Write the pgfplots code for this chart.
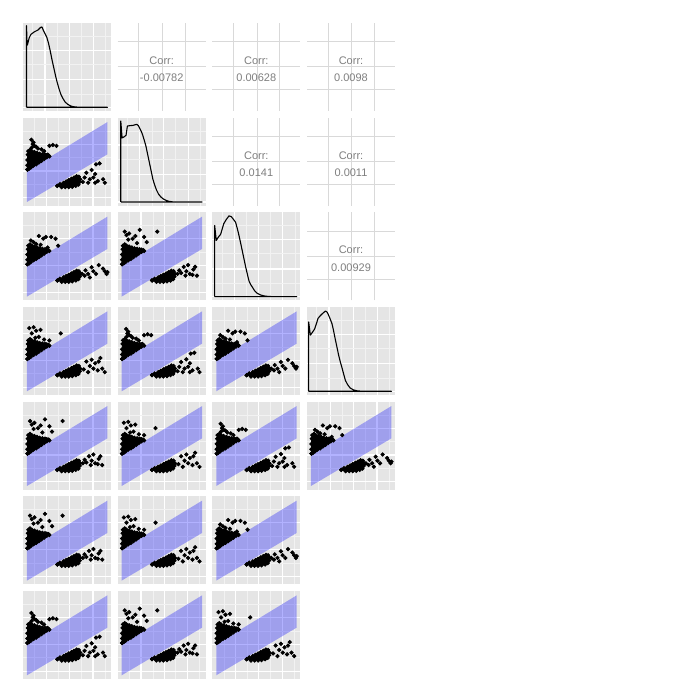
\documentclass[border=0pt]{standalone}
\usepackage{pgfplots}
\pgfplotsset{compat=1.18}
\usepackage{pgfplotstable}
\usepackage{fontspec}
\setmainfont{Liberation Sans}
\definecolor{panelbg}{RGB}{229,229,229}
\definecolor{minorg}{RGB}{242,242,242}
\definecolor{corrgrid}{RGB}{217,217,217}
\definecolor{corrtext}{RGB}{127,127,127}

\pgfplotsset{
 panel/.style={scale only axis, width=44pt, height=44pt, xmin=0,xmax=1,ymin=0,ymax=1,
   anchor=south west, axis line style={draw=none}, tick style={draw=none},
   xticklabels={}, yticklabels={}},
 graypanel/.style={panel, grid=both, axis background/.style={fill=panelbg},
   major grid style={white, line width=0.55pt}, minor grid style={minorg, line width=0.3pt}},
 scatpanel/.style={graypanel, xtick={0.265,0.53,0.795}, minor xtick={0.133,0.40,0.66,0.93},
   ytick={0.09,0.394,0.70}, minor ytick={0.242,0.545,0.85}},
 denspanel/.style={graypanel, xtick={0.25,0.525,0.80}, minor xtick={0.11,0.39,0.66,0.94},
   ytick={0.042,0.356,0.69}, minor ytick={0.19,0.53,0.85}},
 corrpanel/.style={panel, grid=major, xtick={0.24,0.51,0.765}, ytick={0.24,0.50,0.784},
   major grid style={corrgrid, line width=0.5pt}},
}

\pgfplotstableread{
x y
0.05 0.41
0.05 0.46
0.05 0.52
0.055 0.58
0.06 0.62
0.08 0.635
0.10 0.62
0.13 0.61
0.16 0.60
0.19 0.59
0.22 0.585
0.25 0.58
0.27 0.575
0.29 0.57
0.30 0.56
0.27 0.55
0.24 0.53
0.21 0.51
0.18 0.49
0.15 0.47
0.12 0.455
0.09 0.435
0.07 0.42
0.05 0.41
}\blobU

\pgfplotstableread{
x y
0.39 0.225
0.42 0.245
0.46 0.26
0.49 0.275
0.52 0.29
0.55 0.305
0.58 0.32
0.61 0.335
0.635 0.33
0.65 0.30
0.645 0.27
0.63 0.24
0.60 0.225
0.56 0.215
0.52 0.21
0.48 0.21
0.44 0.21
0.39 0.225
}\blobL

\pgfplotstableread{
x y
0.095 0.75
0.11 0.70
0.12 0.72
0.13 0.68
0.15 0.67
0.17 0.65
0.21 0.64
0.28 0.58
0.30 0.68
0.34 0.69
0.38 0.68
0.10 0.66
0.24 0.62
0.68 0.27
0.70 0.32
0.72 0.375
0.74 0.26
0.76 0.30
0.78 0.405
0.80 0.32
0.82 0.26
0.82 0.36
0.83 0.47
0.85 0.28
0.87 0.48
0.91 0.30
0.93 0.26
}\outA

\pgfplotstableread{
x y
0.09 0.68
0.12 0.66
0.18 0.73
0.23 0.70
0.26 0.72
0.32 0.72
0.37 0.70
0.40 0.62
0.20 0.63
0.15 0.64
0.28 0.60
0.70 0.28
0.71 0.34
0.74 0.30
0.76 0.26
0.78 0.375
0.80 0.33
0.83 0.30
0.86 0.40
0.91 0.36
0.93 0.33
0.95 0.30
0.96 0.32
0.67 0.30
}\outB

\pgfplotstableread{
x y
0.08 0.78
0.10 0.74
0.13 0.76
0.17 0.70
0.20 0.73
0.25 0.80
0.30 0.72
0.33 0.66
0.45 0.78
0.22 0.65
0.12 0.69
0.68 0.30
0.70 0.34
0.72 0.31
0.75 0.38
0.77 0.28
0.78 0.33
0.80 0.40
0.82 0.30
0.85 0.29
0.88 0.38
0.90 0.28
0.86 0.35
}\outC

\pgfplotstableread{
x y
0.07 0.76
0.10 0.70
0.12 0.77
0.15 0.73
0.18 0.66
0.20 0.74
0.24 0.63
0.14 0.65
0.43 0.70
0.30 0.62
0.69 0.29
0.72 0.38
0.74 0.26
0.76 0.33
0.78 0.40
0.80 0.30
0.82 0.36
0.85 0.28
0.86 0.38
0.88 0.42
0.90 0.30
0.93 0.26
}\outD

\pgfplotstableread{
x y
0.04 0.042
0.04 0.97
0.045 0.80
0.05 0.75
0.07 0.83
0.09 0.87
0.13 0.90
0.17 0.92
0.20 0.95
0.215 0.955
0.23 0.92
0.25 0.88
0.27 0.84
0.29 0.77
0.31 0.68
0.33 0.58
0.35 0.49
0.37 0.40
0.39 0.32
0.41 0.25
0.43 0.19
0.455 0.14
0.48 0.10
0.51 0.075
0.54 0.058
0.57 0.049
0.62 0.044
0.70 0.042
0.96 0.042
0.04 0.042
}\densA

\pgfplotstableread{
x y
0.035 0.042
0.035 0.962
0.05 0.77
0.07 0.78
0.095 0.80
0.11 0.905
0.14 0.91
0.17 0.912
0.20 0.92
0.216 0.925
0.235 0.91
0.25 0.88
0.27 0.84
0.285 0.80
0.30 0.75
0.32 0.68
0.34 0.585
0.36 0.49
0.38 0.395
0.40 0.30
0.42 0.235
0.44 0.18
0.465 0.13
0.49 0.10
0.52 0.075
0.55 0.06
0.58 0.05
0.63 0.043
0.70 0.042
0.96 0.042
0.035 0.042
}\densB

\pgfplotstableread{
x y
0.027 0.042
0.027 0.85
0.045 0.68
0.07 0.72
0.095 0.75
0.13 0.87
0.16 0.92
0.19 0.96
0.216 0.95
0.24 0.92
0.265 0.886
0.28 0.83
0.30 0.75
0.32 0.66
0.34 0.565
0.36 0.47
0.38 0.375
0.40 0.29
0.417 0.22
0.435 0.18
0.455 0.15
0.48 0.11
0.51 0.08
0.55 0.06
0.587 0.05
0.64 0.043
0.70 0.042
0.96 0.042
0.027 0.042
}\densC

\pgfplotstableread{
x y
0.019 0.042
0.019 0.83
0.038 0.68
0.06 0.71
0.087 0.75
0.11 0.82
0.125 0.87
0.15 0.90
0.17 0.92
0.21 0.955
0.23 0.94
0.246 0.905
0.265 0.86
0.284 0.81
0.30 0.74
0.32 0.64
0.34 0.545
0.36 0.45
0.38 0.37
0.40 0.30
0.42 0.225
0.436 0.167
0.46 0.12
0.49 0.08
0.53 0.057
0.57 0.047
0.64 0.042
0.96 0.042
0.019 0.042
}\densD

\newcommand{\scat}[3]{%
\begin{axis}[scatpanel, at={(#1pt,#2pt)}]
\addplot[draw=none, fill=blue, fill opacity=0.3] coordinates {(0.045,0.042) (0.958,0.583) (0.958,0.95) (0.045,0.394)};
\addplot[black, fill=black, mark=*, mark size=0.85pt] table {\blobU};
\addplot[black, fill=black, mark=*, mark size=0.85pt] table {\blobL};
\addplot[only marks, mark=*, mark size=0.85pt, black] table {#3};
\end{axis}}

\newcommand{\dens}[3]{%
\begin{axis}[denspanel, at={(#1pt,#2pt)}]
\addplot[black, line width=0.55pt, line join=round] table {#3};
\end{axis}}

\newcommand{\corr}[3]{%
\begin{axis}[corrpanel, at={(#1pt,#2pt)}]
\node[text=corrtext, font=\fontsize{5.5}{6}\selectfont] at (axis cs:0.5,0.57) {Corr:};
\node[text=corrtext, font=\fontsize{5.5}{6}\selectfont] at (axis cs:0.5,0.375) {#3};
\end{axis}}

\begin{document}
\begin{tikzpicture}
\path[fill=white] (0,0) rectangle (350pt,350pt);
% row 1
\dens{11.5}{294.5}{\densA}
\corr{58.85}{294.5}{-0.00782}
\corr{106.15}{294.5}{0.00628}
\corr{153.5}{294.5}{0.0098}
% row 2
\scat{11.5}{247.15}{\outA}
\dens{58.85}{247.15}{\densB}
\corr{106.15}{247.15}{0.0141}
\corr{153.5}{247.15}{0.0011}
% row 3
\scat{11.5}{199.85}{\outB}
\scat{58.85}{199.85}{\outC}
\dens{106.15}{199.85}{\densC}
\corr{153.5}{199.85}{0.00929}
% row 4
\scat{11.5}{152.5}{\outD}
\scat{58.85}{152.5}{\outA}
\scat{106.15}{152.5}{\outB}
\dens{153.5}{152.5}{\densD}
% row 5
\scat{11.5}{105.15}{\outC}
\scat{58.85}{105.15}{\outD}
\scat{106.15}{105.15}{\outA}
\scat{153.5}{105.15}{\outB}
% row 6
\scat{11.5}{57.85}{\outC}
\scat{58.85}{57.85}{\outD}
\scat{106.15}{57.85}{\outB}
% row 7
\scat{11.5}{10.5}{\outA}
\scat{58.85}{10.5}{\outC}
\scat{106.15}{10.5}{\outD}
\end{tikzpicture}
\end{document}
